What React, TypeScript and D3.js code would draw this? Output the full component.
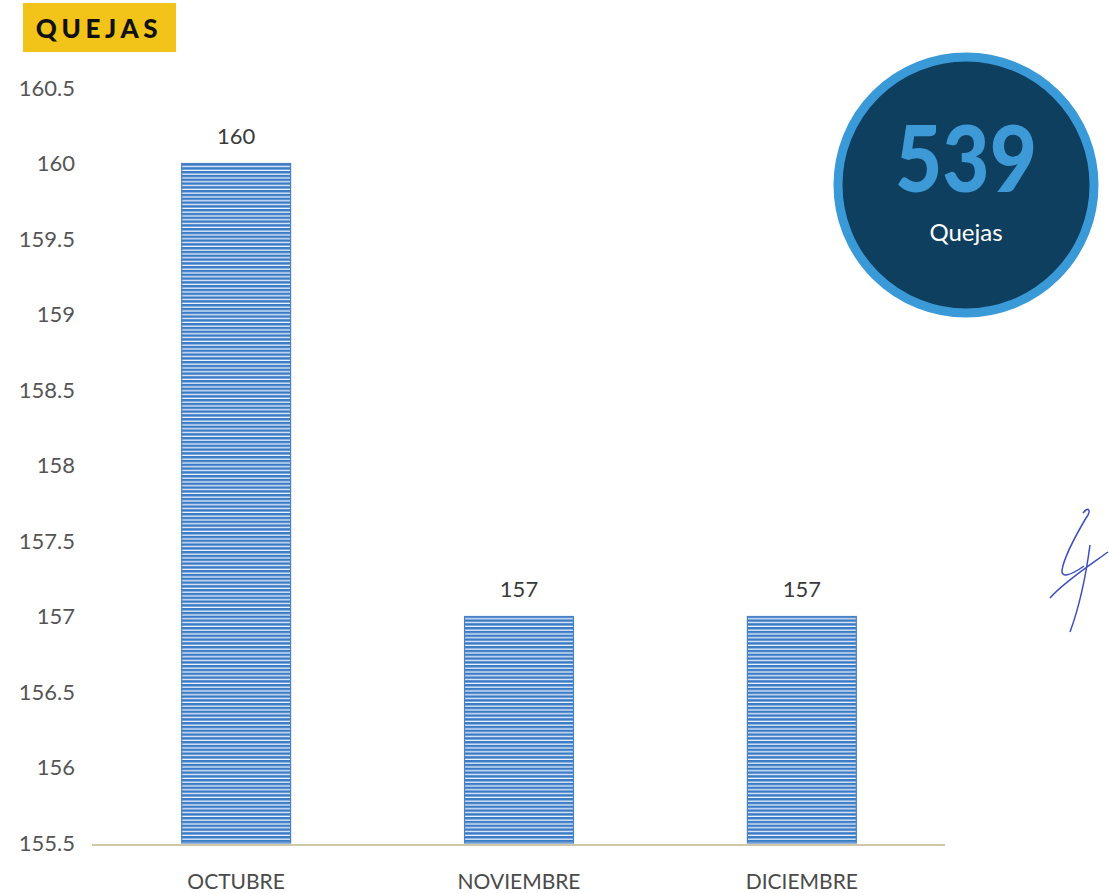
import React from "react";
import * as d3 from "d3";

const categories = ["OCTUBRE", "NOVIEMBRE", "DICIEMBRE"];
const values = [160, 157, 157];
const yTicks = [155.5, 156, 156.5, 157, 157.5, 158, 158.5, 159, 159.5, 160, 160.5];
const totalValue = 539;
const totalLabel = "Quejas";
const title = "QUEJAS";

const W = 1109;
const H = 893;
const FONT = "Lato, 'Open Sans', sans-serif";

export default function App() {
  const y = d3.scaleLinear().domain([155.5, 160.5]).range([843, 88]);
  const x = d3.scaleBand().domain(categories).range([94, 944]).paddingInner(0.615).paddingOuter(0.31);

  return (
    <svg width={W} height={H} style={{ position: "absolute", left: 0, top: 0, background: "#fff" }}>
      <defs>
        <pattern id="stripes" patternUnits="userSpaceOnUse" width="8" height="3.8">
          <rect x="0" y="0" width="8" height="3.8" fill="#eef3fa" />
          <rect x="0" y="0" width="8" height="2.5" fill="#3a7bc6" />
        </pattern>
      </defs>
      {/* title */}
      <rect x={23} y={3} width={153} height={49} fill="#f2c318" />
      <text x={99} y={38} textAnchor="middle" fontFamily={FONT} fontWeight={900} fontSize={26} letterSpacing={4.6} fill="#111">
        {title}
      </text>

      {/* y tick labels */}
      {yTicks.map((t) => (
        <text key={t} x={75} y={y(t)} dy="0.35em" textAnchor="end" fontFamily={FONT} fontSize={22} fill="#555">
          {String(t)}
        </text>
      ))}

      {/* bars */}
      {categories.map((c, i) => (
        <g key={c}>
          <rect
            x={x(c)!}
            y={y(values[i])}
            width={x.bandwidth()}
            height={y(155.5) - y(values[i])}
            fill="url(#stripes)"
            stroke="#4a82c6"
            strokeWidth={1.2}
          />
          <text x={x(c)! + x.bandwidth() / 2} y={y(values[i]) - 20} textAnchor="middle" fontFamily={FONT} fontSize={22} fill="#3a3a3a">
            {values[i]}
          </text>
          <text x={x(c)! + x.bandwidth() / 2} y={889} textAnchor="middle" fontFamily={FONT} fontSize={21} fill="#4a4a4a">
            {c}
          </text>
        </g>
      ))}

      {/* axis line */}
      <line x1={92} x2={945} y1={845} y2={845} stroke="#cfc7a6" strokeWidth={2} />

      {/* total circle */}
      <circle cx={966} cy={185} r={128} fill="#0f3f5f" stroke="#3a9ad8" strokeWidth={9} />
      <text x={966} y={192} textAnchor="middle" fontFamily={FONT} fontWeight={900} fontSize={92} fill="#3d9ad6" textLength={142} lengthAdjust="spacingAndGlyphs">
        {totalValue}
      </text>
      <text x={966} y={241} textAnchor="middle" fontFamily={FONT} fontSize={24} fill="#ffffff">
        {totalLabel}
      </text>

      {/* signature */}
      <path
        d="M1083,513 C1088,506 1092,510 1086,518 C1076,535 1064,558 1062,570 C1061,578 1070,576 1084,566 M1090,545 C1086,575 1080,605 1070,632 M1108,552 C1090,565 1064,582 1050,598"
        fill="none"
        stroke="#3a4fc0"
        strokeWidth={1.5}
      />
    </svg>
  );
}
